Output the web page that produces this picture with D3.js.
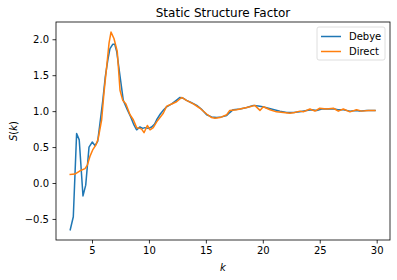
<!DOCTYPE html>
<html>
<head>
<meta charset="utf-8">
<script src="https://cdn.jsdelivr.net/npm/d3@7"></script>
<style>
  body { margin: 0; background: #fff; }
  svg { font-family: "DejaVu Sans", sans-serif; }
</style>
</head>
<body>
<svg id="chart" width="397" height="280"></svg>
<script>
// Values
const debyeK = [3.09, 3.36, 3.65, 3.88, 4.21, 4.45, 4.74, 5.03, 5.26, 5.5, 5.7, 5.95, 6.17, 6.4, 6.58,
  6.82, 7.0, 7.17, 7.45, 7.75, 8.1, 8.4, 8.65, 8.92, 9.21, 9.45, 9.65, 9.95, 10.24, 10.5, 10.68,
  11.0, 11.3, 11.56, 12.0, 12.4, 12.73, 13.0, 13.3, 13.7, 14.2, 14.6, 15.07, 15.5, 15.95, 16.4,
  16.83, 17.1, 17.4, 18.0, 18.6, 19.17, 19.6, 20.0, 20.5, 21.0, 21.5, 22.1, 22.7, 23.26, 23.85,
  24.3, 24.73, 25.17, 25.75, 26.3, 26.6, 27.07, 27.65, 28.2, 28.5, 29.1, 29.85];
const debyeS = [-0.65, -0.47, 0.69, 0.60, -0.18, -0.03, 0.50, 0.57, 0.52, 0.58, 0.83, 1.15, 1.48, 1.72, 1.87,
  1.93, 1.93, 1.83, 1.50, 1.15, 1.02, 0.92, 0.82, 0.74, 0.78, 0.76, 0.77, 0.76, 0.78, 0.82, 0.88,
  0.96, 1.02, 1.06, 1.10, 1.15, 1.19, 1.18, 1.15, 1.12, 1.08, 1.03, 0.95, 0.92, 0.91, 0.92,
  0.94, 0.98, 1.02, 1.03, 1.05, 1.08, 1.07, 1.06, 1.04, 1.02, 1.00, 0.98, 0.98, 0.99, 1.01,
  1.02, 1.01, 1.03, 1.03, 1.03, 1.02, 1.02, 1.00, 1.01, 1.00, 1.01, 1.01];

const directK = [3.09, 3.5, 3.95, 4.39, 4.59, 4.82, 5.06, 5.35, 5.55, 5.85, 6.05, 6.29, 6.5, 6.67, 6.93,
  7.22, 7.46, 7.7, 7.98, 8.34, 8.63, 8.92, 9.21, 9.36, 9.57, 9.86, 10.1, 10.38, 10.68, 11.26,
  11.56, 12.0, 12.43, 12.87, 13.3, 13.9, 14.48, 15.07, 15.5, 15.8, 16.24, 16.83, 17.1, 17.7,
  18.3, 18.87, 19.3, 19.75, 20.04, 20.63, 21.2, 21.8, 22.38, 22.8, 23.26, 23.55, 24.14, 24.58,
  25.0, 25.6, 26.2, 26.63, 27.07, 27.65, 28.24, 28.68, 29.26, 29.85];
const directS = [0.12, 0.125, 0.17, 0.20, 0.25, 0.37, 0.46, 0.53, 0.62, 0.88, 1.25, 1.62, 1.95, 2.10, 2.01,
  1.83, 1.29, 1.15, 1.10, 0.95, 0.88, 0.77, 0.76, 0.75, 0.70, 0.80, 0.74, 0.77, 0.85, 0.97,
  1.07, 1.10, 1.13, 1.19, 1.15, 1.10, 1.04, 0.96, 0.91, 0.90, 0.91, 0.95, 1.01, 1.02,
  1.04, 1.06, 1.08, 1.01, 1.06, 1.02, 0.99, 0.98, 0.97, 0.98, 1.00, 0.99, 1.03, 1.00,
  1.04, 1.03, 1.04, 1.00, 1.03, 0.99, 1.02, 1.00, 1.01, 1.01];

const seriesNames = ['Debye', 'Direct'];
const seriesColors = ['#1f77b4', '#ff7f0e'];
const xTicks = [5, 10, 15, 20, 25, 30];
const yTicks = [-0.5, 0.0, 0.5, 1.0, 1.5, 2.0];

const plot = { left: 56, top: 22, right: 390, bottom: 240 };

const series = [
  d3.zip(debyeK, debyeS),
  d3.zip(directK, directS)
];

const svg = d3.select('#chart');

const x = d3.scaleLinear().domain([1.84, 31.17]).range([plot.left, plot.right]);
const y = d3.scaleLinear().domain([-0.793, 2.24]).range([plot.bottom, plot.top]);

// Lines
const line = d3.line().x(d => x(d[0])).y(d => y(d[1]));
svg.append('g').selectAll('path')
  .data(series)
  .join('path')
  .attr('d', line)
  .attr('fill', 'none')
  .attr('stroke', (d, i) => seriesColors[i])
  .attr('stroke-width', 1.5)
  .attr('stroke-linejoin', 'round')
  .attr('stroke-linecap', 'square');

// Axes
const xAxis = svg.append('g')
  .attr('transform', `translate(0,${plot.bottom})`)
  .call(d3.axisBottom(x).tickValues(xTicks).tickSize(3.5).tickPadding(3.5).tickFormat(d3.format('d')));
const yAxis = svg.append('g')
  .attr('transform', `translate(${plot.left},0)`)
  .call(d3.axisLeft(y).tickValues(yTicks).tickSize(3.5).tickPadding(3.5).tickFormat(d3.format('.1f')));
[xAxis, yAxis].forEach(a => {
  a.select('.domain').remove();
  a.selectAll('.tick line').attr('stroke', '#000').attr('stroke-width', 0.8);
  a.selectAll('.tick text').attr('font-size', 10).attr('fill', '#000')
    .attr('font-family', '"DejaVu Sans", sans-serif');
});

// Frame
svg.append('rect')
  .attr('x', plot.left).attr('y', plot.top)
  .attr('width', plot.right - plot.left).attr('height', plot.bottom - plot.top)
  .attr('fill', 'none').attr('stroke', '#000').attr('stroke-width', 0.8);

// Title and labels
svg.append('text')
  .attr('x', (plot.left + plot.right) / 2).attr('y', 16.5)
  .attr('text-anchor', 'middle').attr('font-size', 12)
  .text('Static Structure Factor');

svg.append('text')
  .attr('x', (plot.left + plot.right) / 2).attr('y', 271)
  .attr('text-anchor', 'middle').attr('font-size', 10).attr('font-style', 'italic')
  .text('k');

const yLabel = svg.append('text')
  .attr('transform', `translate(17,${(plot.top + plot.bottom) / 2}) rotate(-90)`)
  .attr('text-anchor', 'middle').attr('font-size', 10);
yLabel.append('tspan').attr('font-style', 'italic').text('S');
yLabel.append('tspan').text('(');
yLabel.append('tspan').attr('font-style', 'italic').text('k');
yLabel.append('tspan').text(')');

// Legend
const legend = svg.append('g').attr('transform', 'translate(317,27)');
legend.append('rect')
  .attr('width', 68).attr('height', 33).attr('rx', 2)
  .attr('fill', '#fff').attr('fill-opacity', 0.8)
  .attr('stroke', '#d6d6d6').attr('stroke-width', 0.8);
const items = legend.selectAll('g.item')
  .data(seriesNames)
  .join('g')
  .attr('class', 'item')
  .attr('transform', (d, i) => `translate(0,${9.5 + i * 15})`);
items.append('line')
  .attr('x1', 4).attr('x2', 24)
  .attr('stroke', (d, i) => seriesColors[i]).attr('stroke-width', 1.5);
items.append('text')
  .attr('x', 32).attr('dy', '0.35em').attr('font-size', 10)
  .text(d => d);
</script>
</body>
</html>
